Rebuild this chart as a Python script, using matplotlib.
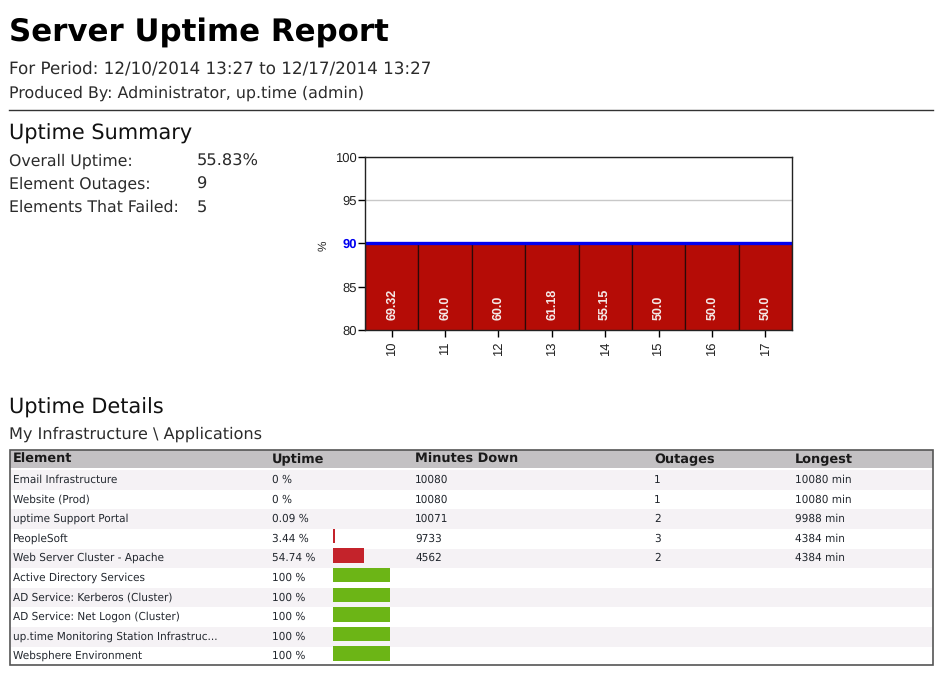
import matplotlib
matplotlib.use("Agg")
import matplotlib.pyplot as plt

plt.rcParams["text.hinting"] = "no_hinting"

W, H = 940, 680

days = ["10", "11", "12", "13", "14", "15", "16", "17"]
day_labels = ["69.32", "60.0", "60.0", "61.18", "55.15", "50.0", "50.0", "50.0"]
# bars stop at the threshold line in the report
day_tops = [90, 90, 90, 90, 90, 90, 90, 90]
threshold = 90
yticks = [80, 85, 90, 95, 100]

summary_names = ["Overall Uptime:", "Element Outages:", "Elements That Failed:"]
summary_values = ["55.83%", "9", "5"]

columns = ["Element", "Uptime", "Minutes Down", "Outages", "Longest"]
elements = ["Email Infrastructure", "Website (Prod)", "uptime Support Portal", "PeopleSoft",
            "Web Server Cluster - Apache", "Active Directory Services", "AD Service: Kerberos (Cluster)",
            "AD Service: Net Logon (Cluster)", "up.time Monitoring Station Infrastruc...", "Websphere Environment"]
uptime = [0, 0, 0.09, 3.44, 54.74, 100, 100, 100, 100, 100]
uptime_text = ["0 %", "0 %", "0.09 %", "3.44 %", "54.74 %", "100 %", "100 %", "100 %", "100 %", "100 %"]
minutes_down = ["10080", "10080", "10071", "9733", "4562", "", "", "", "", ""]
outages = ["1", "1", "2", "3", "2", "", "", "", "", ""]
longest = ["10080 min", "10080 min", "9988 min", "4384 min", "4384 min", "", "", "", "", ""]


def px_axes(x0, y0, x1, y1):
    # axes from pixel box, y measured from the top of the image
    return fig.add_axes([x0 / W, 1 - y1 / H, (x1 - x0) / W, (y1 - y0) / H])


fig = plt.figure(figsize=(W / 100, H / 100), dpi=100, facecolor="white")

# page layer in pixel coordinates, text placed by baseline
page = fig.add_axes([0, 0, 1, 1])
page.set_xlim(0, W)
page.set_ylim(H, 0)
page.axis("off")

dark = "#2b2b2b"
page.text(9, 42, "Server Uptime Report", fontsize=22.2, fontweight="bold", color="black", va="baseline")
page.text(9, 74, "For Period: 12/10/2014 13:27 to 12/17/2014 13:27", fontsize=12.1, color=dark, va="baseline")
page.text(9, 98, "Produced By: Administrator, up.time (admin)", fontsize=11.4, color=dark, va="baseline")
page.plot([9, 933], [110, 110], color="#333333", lw=1)
page.text(9, 140, "Uptime Summary", fontsize=15, color="#111111", va="baseline")
page.text(9, 414, "Uptime Details", fontsize=15, color="#111111", va="baseline")
page.text(9, 439, "My Infrastructure \\ Applications", fontsize=11.6, color=dark, va="baseline")

for i, name in enumerate(summary_names):
    y = 166 + 23 * i
    page.text(9, y, name, fontsize=11.3, color=dark, va="baseline")
    page.text(197, y, summary_values[i], fontsize=11.7, color=dark, va="baseline")

# table
row_h = 19.6
first_y = 480
col_x = [13, 272, 415, 654, 795]
page.fill_between([10, 933], 450, 468, color="#c3c1c3", lw=0, zorder=1)
for i in range(len(elements)):
    y = first_y + row_h * i
    if i % 2 == 0:
        page.fill_between([11, 932], y - row_h / 2, y + row_h / 2, color="#f5f2f5", lw=0, zorder=1)
    cells = [elements[i], uptime_text[i], minutes_down[i], outages[i], longest[i]]
    for x, cell in zip(col_x, cells):
        page.text(x, round(y + 3), cell, fontsize=7.6, color="#22272e", va="baseline", zorder=3)
for x, col in zip(col_x, columns):
    page.text(x, 463, col, fontsize=9.3, fontweight="bold", color="#1a1a1a", va="baseline", zorder=3)
page.add_patch(plt.Rectangle((10, 450), 923, 215, fill=False, ec="#555555", lw=1.2, zorder=4))

# uptime bars in the table
bars = px_axes(333, 467.4, 390, 663.4)
bars.patch.set_alpha(0)
bars.set_xlim(0, 100)
bars.set_ylim(len(elements) - 0.5, -0.5)
bars.axis("off")
colors = ["#6cb516" if u == 100 else "#c4232b" for u in uptime]
bars.barh(range(len(uptime)), uptime, height=0.73, color=colors, linewidth=0)

# daily chart
ax = px_axes(365, 157, 792, 330)
ax.set_ylim(80, 100)
ax.set_xlim(-0.5, len(days) - 0.5)
ax.bar(range(len(days)), day_tops, width=1.0, color="#b50c06", edgecolor="#2a0a08", linewidth=0.9, zorder=2)
ax.set_yticks(yticks)
ax.grid(axis="y", color="#c8c8c8", lw=1, zorder=1)
ax.axhline(threshold, color="#0000f0", lw=2.4, zorder=4)
for i, lab in enumerate(day_labels):
    ax.text(i, 81.1, lab, rotation=90, ha="center", va="bottom", color="#f4e8e6",
            fontsize=9, fontweight="bold", family="Liberation Sans", zorder=3)
ax.set_xticks(range(len(days)))
ax.set_xticklabels(days, rotation=90, family="Liberation Sans", fontsize=9.4, color="#222222")
ax.tick_params(axis="x", length=5, width=1, pad=3)
ax.tick_params(axis="y", length=5, width=1, pad=1, labelsize=9.4, labelcolor="#222222")
for t in ax.get_yticklabels():
    t.set_family("Liberation Sans")
    if t.get_text() == str(threshold):
        t.set_color("#0000f0")
        t.set_fontweight("bold")
for s in ax.spines.values():
    s.set_color("#222222")
    s.set_linewidth(1)
    s.set_zorder(5)
page.text(323, 246, "%", rotation=90, ha="center", va="center", fontsize=8.5, family="Liberation Sans", color="#222222")

plt.savefig("out.png", dpi=100)
